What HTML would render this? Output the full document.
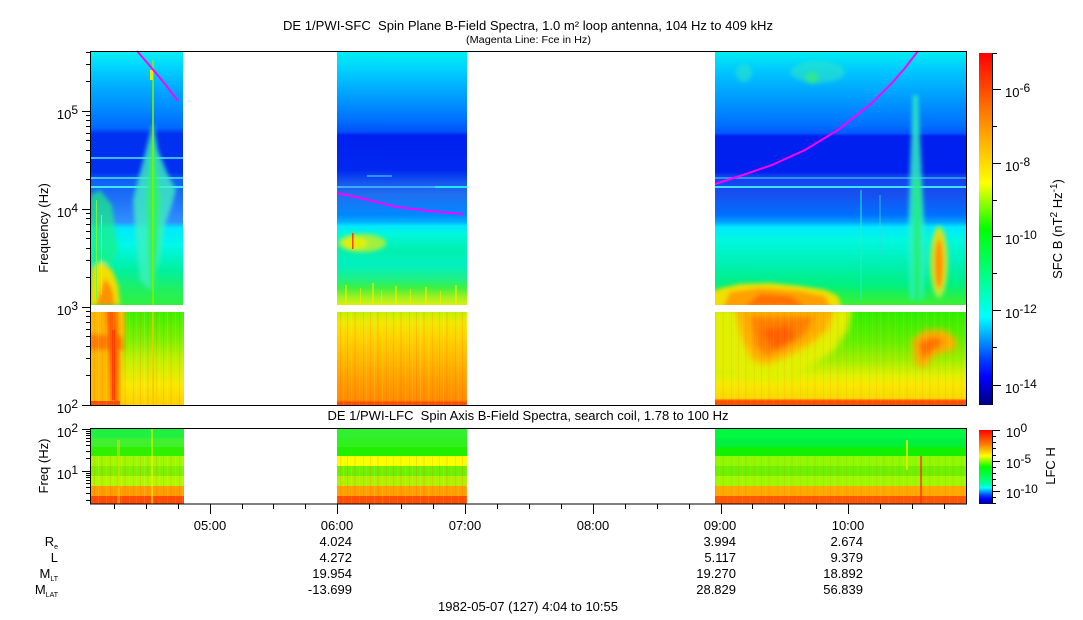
<!DOCTYPE html>
<html><head><meta charset="utf-8">
<style>
html,body{margin:0;padding:0;background:#fff;}
svg{display:block;}
text{font-family:"Liberation Sans",Arial,sans-serif;fill:#000;}
</style></head><body>
<svg width="1083" height="620" viewBox="0 0 1083 620" xmlns="http://www.w3.org/2000/svg">
<defs>
<linearGradient id="g1t" gradientUnits="userSpaceOnUse" x1="0" y1="51" x2="0" y2="305">
<stop offset="0" stop-color="#10f0f0"/><stop offset=".055" stop-color="#00d8ff"/><stop offset=".134" stop-color="#00b0ff"/>
<stop offset=".232" stop-color="#0088ff"/><stop offset=".303" stop-color="#0068ff"/><stop offset=".327" stop-color="#0030f0"/>
<stop offset=".476" stop-color="#0030f0"/><stop offset=".508" stop-color="#1060f8"/><stop offset=".587" stop-color="#2070f8"/>
<stop offset=".673" stop-color="#3090ff"/><stop offset=".697" stop-color="#00e8ff"/><stop offset=".764" stop-color="#00f8e8"/>
<stop offset=".862" stop-color="#00f0a0"/><stop offset=".941" stop-color="#20f060"/><stop offset="1" stop-color="#30f040"/>
</linearGradient>
<linearGradient id="g2t" gradientUnits="userSpaceOnUse" x1="0" y1="51" x2="0" y2="305">
<stop offset="0" stop-color="#00f0f0"/><stop offset=".075" stop-color="#00d0ff"/><stop offset=".173" stop-color="#00a0ff"/>
<stop offset=".272" stop-color="#0070ff"/><stop offset=".319" stop-color="#0050f8"/><stop offset=".331" stop-color="#0020f0"/>
<stop offset=".469" stop-color="#0028f0"/><stop offset=".492" stop-color="#0840f0"/><stop offset=".520" stop-color="#1858f0"/>
<stop offset=".567" stop-color="#2070f0"/><stop offset=".646" stop-color="#0088ff"/><stop offset=".673" stop-color="#00b0ff"/>
<stop offset=".689" stop-color="#00e8ff"/><stop offset=".724" stop-color="#00f8d8"/><stop offset=".783" stop-color="#00f0b0"/>
<stop offset=".843" stop-color="#00f0c0"/><stop offset=".902" stop-color="#20f080"/><stop offset=".933" stop-color="#40f040"/>
<stop offset=".969" stop-color="#a0f020"/><stop offset="1" stop-color="#d8f010"/>
</linearGradient>
<linearGradient id="g3t" gradientUnits="userSpaceOnUse" x1="0" y1="51" x2="0" y2="305">
<stop offset="0" stop-color="#00f0f0"/><stop offset=".075" stop-color="#00c8ff"/><stop offset=".193" stop-color="#0098ff"/>
<stop offset=".291" stop-color="#0070ff"/><stop offset=".323" stop-color="#0058ff"/><stop offset=".335" stop-color="#0020f0"/>
<stop offset=".476" stop-color="#0020f0"/><stop offset=".492" stop-color="#1040f0"/><stop offset=".567" stop-color="#1850f0"/>
<stop offset=".646" stop-color="#0070ff"/><stop offset=".673" stop-color="#00a0ff"/><stop offset=".693" stop-color="#00e8ff"/>
<stop offset=".744" stop-color="#00f8e0"/><stop offset=".843" stop-color="#00f0b0"/><stop offset=".921" stop-color="#00f080"/>
<stop offset=".961" stop-color="#20f050"/><stop offset="1" stop-color="#40f030"/>
</linearGradient>
<linearGradient id="g1b" gradientUnits="userSpaceOnUse" x1="0" y1="312" x2="0" y2="405">
<stop offset="0" stop-color="#40f000"/><stop offset=".3" stop-color="#80f000"/><stop offset=".5" stop-color="#c0f000"/>
<stop offset=".78" stop-color="#f8e800"/><stop offset="1" stop-color="#ffd000"/>
</linearGradient>
<linearGradient id="g2b" gradientUnits="userSpaceOnUse" x1="0" y1="312" x2="0" y2="405">
<stop offset="0" stop-color="#c0f000"/><stop offset=".11" stop-color="#f0e800"/><stop offset=".3" stop-color="#ffd000"/>
<stop offset=".52" stop-color="#ffb800"/><stop offset=".73" stop-color="#ffa000"/><stop offset=".95" stop-color="#ff8c00"/>
<stop offset=".97" stop-color="#ff5000"/><stop offset="1" stop-color="#ff5000"/>
</linearGradient>
<linearGradient id="g3b" gradientUnits="userSpaceOnUse" x1="0" y1="312" x2="0" y2="405">
<stop offset="0" stop-color="#30f000"/><stop offset=".3" stop-color="#60f000"/><stop offset=".52" stop-color="#a0f000"/>
<stop offset=".68" stop-color="#e0f000"/><stop offset=".78" stop-color="#f8e800"/><stop offset=".93" stop-color="#f8d800"/>
<stop offset=".95" stop-color="#ff6000"/><stop offset="1" stop-color="#ff5000"/>
</linearGradient>
<linearGradient id="gcb" x1="0" y1="0" x2="0" y2="1">
<stop offset="0" stop-color="#ff0000"/><stop offset=".2" stop-color="#ff9000"/><stop offset=".37" stop-color="#ffff00"/>
<stop offset=".5" stop-color="#00ff00"/><stop offset=".75" stop-color="#00ffff"/><stop offset=".87" stop-color="#0040ff"/>
<stop offset=".92" stop-color="#0000ff"/><stop offset="1" stop-color="#000080"/>
</linearGradient>
<linearGradient id="gcb2" x1="0" y1="0" x2="0" y2="1">
<stop offset="0" stop-color="#ff0000"/><stop offset=".2" stop-color="#ff8000"/><stop offset=".35" stop-color="#ffff00"/>
<stop offset=".5" stop-color="#00ff00"/><stop offset=".73" stop-color="#00ffa0"/><stop offset=".78" stop-color="#00ffff"/>
<stop offset=".88" stop-color="#0040ff"/><stop offset=".93" stop-color="#0000ff"/><stop offset="1" stop-color="#000080"/>
</linearGradient>
<pattern id="tex" patternUnits="userSpaceOnUse" x="0" y="0" width="23" height="620">
<rect x="2" y="0" width="1" height="620" fill="#ff2000" opacity=".12"/>
<rect x="6" y="0" width="1" height="620" fill="#ffffff" opacity=".10"/>
<rect x="9" y="0" width="2" height="620" fill="#ff2000" opacity=".08"/>
<rect x="14" y="0" width="1" height="620" fill="#ffff00" opacity=".12"/>
<rect x="18" y="0" width="1" height="620" fill="#ff2000" opacity=".10"/>
<rect x="21" y="0" width="1" height="620" fill="#ffffff" opacity=".08"/>
</pattern>
<filter id="bl" x="-30%" y="-30%" width="160%" height="160%"><feGaussianBlur stdDeviation="2.2"/></filter>
<filter id="bl2" x="-30%" y="-30%" width="160%" height="160%"><feGaussianBlur stdDeviation="3.5"/></filter>
<clipPath id="c1t"><rect x="90" y="51" width="93" height="254"/></clipPath>
<clipPath id="c1b"><rect x="90" y="312" width="94" height="93"/></clipPath>
<clipPath id="c2t"><rect x="337" y="51" width="130" height="254"/></clipPath>
<clipPath id="c2b"><rect x="337" y="312" width="130" height="93"/></clipPath>
<clipPath id="c3t"><rect x="715" y="51" width="251" height="254"/></clipPath>
<clipPath id="c3b"><rect x="715" y="312" width="251" height="93"/></clipPath>
</defs>

<!-- Titles -->
<text x="283" y="30" font-size="13" textLength="490" lengthAdjust="spacingAndGlyphs">DE 1/PWI-SFC&#160; Spin Plane B-Field Spectra, 1.0 m² loop antenna, 104 Hz to 409 kHz</text>
<text x="466" y="43" font-size="10" textLength="125" lengthAdjust="spacingAndGlyphs">(Magenta Line: Fce in Hz)</text>
<text x="528" y="420" font-size="13" text-anchor="middle">DE 1/PWI-LFC&#160; Spin Axis B-Field Spectra, search coil, 1.78 to 100 Hz</text>

<!-- ===== Block 1 top ===== -->
<rect x="90" y="51" width="93" height="254" fill="url(#g1t)"/>
<rect x="90" y="157" width="93" height="2" fill="#40b8ff"/>
<rect x="90" y="177" width="93" height="2" fill="#40c0ff"/>
<rect x="90" y="186" width="93" height="2" fill="#40e8ff"/>
<g clip-path="url(#c1t)">
<g filter="url(#bl)">
<polygon points="153,122 158,150 168,175 176,190 172,205 165,225 160,260 150,290 140,280 136,240 133,200 138,180 146,150" fill="#40f0c0" opacity=".8"/>
<polygon points="153,135 157,170 160,200 158,240 155,290 150,290 148,240 147,200 149,170" fill="#30f070"/>
<polygon points="90,195 100,190 112,205 118,250 110,265 90,265" fill="#20f080" opacity=".7"/>
<polygon points="90,305 120,305 118,285 112,270 102,262 92,268" fill="#f0e000"/>
<polygon points="96,305 115,305 112,288 105,278" fill="#ff9000"/>
</g>
<rect x="152" y="60" width="2" height="245" fill="#80f000" opacity=".8"/>
<rect x="150" y="70" width="3" height="10" fill="#e0f000"/>
<rect x="96" y="200" width="1" height="100" fill="#80f040"/>
<rect x="101" y="215" width="1" height="80" fill="#f0f000" opacity=".7"/>
</g>
<!-- Block 1 bottom -->
<rect x="90" y="312" width="94" height="93" fill="url(#g1b)"/>
<g clip-path="url(#c1b)">
<g filter="url(#bl)">
<polygon points="86,308 125,308 125,330 122,360 120,410 86,410" fill="#ffb800"/>
<polygon points="88,334 122,336 124,350 88,350" fill="#ff8000"/>
<polygon points="105,308 117,308 119,360 118,410 111,410 109,360" fill="#ff6000"/>
</g>
<rect x="112" y="330" width="3" height="70" fill="#ff3000" opacity=".7"/>
<rect x="90" y="401" width="30" height="4" fill="#ff5000"/>
<rect x="152" y="312" width="2" height="93" fill="#f0c000" opacity=".7"/>
<rect x="90" y="312" width="94" height="93" fill="url(#tex)"/>
</g>

<!-- ===== Block 2 top ===== -->
<rect x="337" y="51" width="130" height="254" fill="url(#g2t)"/>
<rect x="367" y="175" width="25" height="2" fill="#3090ff"/>
<rect x="337" y="186" width="130" height="2" fill="#40a8ff"/>
<rect x="435" y="186" width="32" height="2" fill="#20e8ff"/>
<g clip-path="url(#c2t)">
<g filter="url(#bl)">
<ellipse cx="362" cy="243" rx="24" ry="9" fill="#a0f040"/>
<ellipse cx="355" cy="243" rx="12" ry="6" fill="#e0f000"/>
</g>
<rect x="352" y="233" width="1.5" height="16" fill="#ff4000"/>
<g fill="#f0f000" opacity=".6">
<rect x="345" y="285" width="2" height="20"/><rect x="360" y="288" width="1" height="17"/><rect x="372" y="283" width="2" height="22"/>
<rect x="381" y="290" width="1" height="15"/><rect x="395" y="286" width="2" height="19"/><rect x="410" y="289" width="1" height="16"/>
<rect x="425" y="287" width="2" height="18"/><rect x="440" y="291" width="1" height="14"/><rect x="455" y="285" width="2" height="20"/>
</g>
</g>
<!-- Block 2 bottom -->
<rect x="337" y="312" width="130" height="93" fill="url(#g2b)"/>
<rect x="337" y="312" width="130" height="93" fill="url(#tex)"/>

<!-- ===== Block 3 top ===== -->
<rect x="715" y="51" width="251" height="254" fill="url(#g3t)"/>
<rect x="715" y="177" width="251" height="2" fill="#3090ff"/>
<rect x="715" y="186" width="251" height="2" fill="#40e0ff"/>
<g clip-path="url(#c3t)">
<g filter="url(#bl)">
<ellipse cx="744" cy="73" rx="8" ry="9" fill="#30e8c0" opacity=".55"/>
<ellipse cx="818" cy="72" rx="27" ry="11" fill="#30e8c0" opacity=".55"/>
<ellipse cx="812" cy="78" rx="7" ry="6" fill="#40f060" opacity=".6"/>
<polygon points="913,95 918,95 922,180 926,260 923,300 910,300 908,240 910,170" fill="#30f0c0" opacity=".85"/>
<polygon points="915,180 919,180 920,300 914,300" fill="#20f060"/>
<ellipse cx="939" cy="262" rx="9" ry="36" fill="#a0f040"/>
<ellipse cx="939" cy="262" rx="6" ry="30" fill="#f0d000"/>
<ellipse cx="939" cy="264" rx="4" ry="24" fill="#ff9000"/>
<polygon points="710,310 710,292 722,288 740,284 770,283 800,286 825,290 838,296 842,310" fill="#f0e000"/>
<polygon points="722,310 730,292 760,288 800,291 825,296 832,310" fill="#ffa000"/>
<polygon points="745,306 760,294 790,296 805,306" fill="#ff7000"/>
</g>
<rect x="860" y="190" width="2" height="110" fill="#20f0c0" opacity=".5"/>
<rect x="879" y="195" width="2" height="60" fill="#40d0e0" opacity=".4"/>
</g>
<!-- Block 3 bottom -->
<rect x="715" y="312" width="251" height="93" fill="url(#g3b)"/>
<g clip-path="url(#c3b)">
<g filter="url(#bl2)">
<polygon points="710,308 852,308 848,330 835,350 810,368 790,378 760,380 730,375 710,372" fill="#e0f000"/>
<polygon points="735,308 835,308 828,330 810,345 785,358 765,365 752,360 742,340" fill="#ffb000"/>
<polygon points="750,316 815,316 805,335 785,348 765,356 755,345" fill="#ff8000"/>
<polygon points="760,330 790,325 795,340 775,350" fill="#ff6000"/>
<polygon points="912,340 925,330 945,330 957,340 955,350 935,355 925,368 915,365" fill="#ffb000"/>
<polygon points="918,342 935,336 945,342 932,352 922,360" fill="#ff7000"/>
</g>
<rect x="715" y="401" width="251" height="4" fill="#ff5000"/>
<rect x="715" y="312" width="251" height="93" fill="url(#tex)" opacity=".6"/>
</g>

<!-- Magenta lines -->
<polyline points="137,51 150,66 165,84 178,101" fill="none" stroke="#ff00ff" stroke-width="2"/>
<polyline points="338,193 360,198 397,207 430,211 463,214" fill="none" stroke="#ff00ff" stroke-width="2"/>
<polyline points="715,184 740,176 772,165 805,150 838,130 872,103 892,83 905,68 918,51" fill="none" stroke="#ff00ff" stroke-width="2"/>

<!-- ===== Lower panel ===== -->
<g>
<rect x="90" y="429" width="94" height="9" fill="#20f040"/>
<rect x="90" y="438" width="94" height="9" fill="#40f030"/>
<rect x="90" y="447" width="94" height="9" fill="#30f000"/>
<rect x="90" y="456" width="94" height="10" fill="#a0f800"/>
<rect x="90" y="466" width="94" height="10" fill="#80f000"/>
<rect x="90" y="476" width="94" height="10" fill="#b0f800"/>
<rect x="90" y="486" width="94" height="10" fill="#ff9c00"/>
<rect x="90" y="496" width="94" height="8" fill="#ff4c00"/>
<rect x="117" y="440" width="3" height="64" fill="#ffd000" opacity=".5"/>
<rect x="151" y="429" width="2" height="75" fill="#f0f000" opacity=".6"/>

<rect x="337" y="429" width="130" height="9" fill="#30f030"/>
<rect x="337" y="438" width="130" height="9" fill="#30f020"/>
<rect x="337" y="447" width="130" height="9" fill="#20f000"/>
<rect x="337" y="456" width="130" height="10" fill="#f8ff00"/>
<rect x="337" y="466" width="130" height="10" fill="#70f000"/>
<rect x="337" y="476" width="130" height="10" fill="#b0f000"/>
<rect x="337" y="486" width="130" height="10" fill="#ffa000"/>
<rect x="337" y="496" width="130" height="8" fill="#ff5000"/>

<rect x="715" y="429" width="251" height="9" fill="#00f840"/>
<rect x="715" y="438" width="251" height="9" fill="#00f040"/>
<rect x="715" y="447" width="251" height="9" fill="#10f000"/>
<rect x="715" y="456" width="251" height="10" fill="#90f800"/>
<rect x="715" y="466" width="251" height="10" fill="#70f000"/>
<rect x="715" y="476" width="251" height="10" fill="#a0f800"/>
<rect x="715" y="486" width="251" height="10" fill="#ffa800"/>
<rect x="715" y="496" width="251" height="8" fill="#ff5800"/>
<rect x="906" y="440" width="2" height="30" fill="#f0f000" opacity=".8"/>
<rect x="920" y="456" width="2" height="48" fill="#ff3000" opacity=".7"/>
<rect x="90" y="456" width="94" height="48" fill="url(#tex)"/>
<rect x="337" y="456" width="130" height="48" fill="url(#tex)"/>
<rect x="715" y="456" width="251" height="48" fill="url(#tex)" opacity=".6"/>
</g>

<!-- Frames -->
<rect x="90.5" y="51.5" width="876" height="354" fill="none" stroke="#000" stroke-width="1"/>
<rect x="90.5" y="428.5" width="876" height="75.5" fill="none" stroke="#000" stroke-width="1"/>

<!-- Ticks -->
<g stroke="#000" stroke-width="1">
<path d="M82 111.5H90M82 209.5H90M82 307.5H90M82 405.5H90"/>
<path d="M86 375.5H90M86 358.5H90M86 346.5H90M86 336.5H90M86 329.5H90M86 322.5H90M86 316.5H90M86 311.5H90
M86 277.5H90M86 260.5H90M86 248.5H90M86 238.5H90M86 231.5H90M86 224.5H90M86 218.5H90M86 213.5H90
M86 179.5H90M86 162.5H90M86 150.5H90M86 140.5H90M86 133.5H90M86 126.5H90M86 120.5H90M86 115.5H90
M86 81.5H90M86 64.5H90M86 52.5H90"/>
<path d="M82 429.5H90M82 471.5H90"/>
<path d="M86 431.5H90M86 433.5H90M86 435.5H90M86 438.5H90M86 441.5H90M86 445.5H90M86 451.5H90M86 458.5H90
M86 473.5H90M86 475.5H90M86 477.5H90M86 480.5H90M86 483.5H90M86 487.5H90M86 493.5H90M86 500.5H90"/>
<path d="M210.5 504V514M337.5 504V514M465.5 504V514M593.5 504V514M721.5 504V514M848.5 504V514"/>
<path d="M114.5 504V509M146.5 504V509M178.5 504V509M242.5 504V509M273.5 504V509M305.5 504V509
M369.5 504V509M401.5 504V509M433.5 504V509M497.5 504V509M529.5 504V509M561.5 504V509
M625.5 504V509M657.5 504V509M689.5 504V509M752.5 504V509M784.5 504V509M816.5 504V509
M880.5 504V509M912.5 504V509M944.5 504V509"/>
</g>

<!-- Left tick labels -->
<g font-size="13">
<text x="78" y="119" text-anchor="end">10<tspan dy="-5" font-size="12">5</tspan></text>
<text x="78" y="217" text-anchor="end">10<tspan dy="-5" font-size="12">4</tspan></text>
<text x="78" y="315" text-anchor="end">10<tspan dy="-5" font-size="12">3</tspan></text>
<text x="78" y="413" text-anchor="end">10<tspan dy="-5" font-size="12">2</tspan></text>
<text x="78" y="437" text-anchor="end">10<tspan dy="-5" font-size="12">2</tspan></text>
<text x="78" y="479" text-anchor="end">10<tspan dy="-5" font-size="12">1</tspan></text>
</g>
<text transform="translate(48,228) rotate(-90)" font-size="13" text-anchor="middle">Frequency (Hz)</text>
<text transform="translate(48,466) rotate(-90)" font-size="13" text-anchor="middle">Freq (Hz)</text>

<!-- Colorbars -->
<rect x="979" y="53" width="13" height="352" fill="url(#gcb)"/>
<rect x="979" y="430" width="13" height="74" fill="url(#gcb2)"/>
<g stroke="#000" stroke-width="1">
<path d="M992.5 53V405M992.5 430V504"/>
<path d="M992 89.5H1001M992 163.5H1001M992 236.5H1001M992 310.5H1001M992 385.5H1001"/>
<path d="M992 53.5H997M992 126.5H997M992 200.5H997M992 273.5H997M992 347.5H997"/>
<path d="M992 430.5H1000M992 461.5H1000M992 491.5H1000"/>
<path d="M992 436.5H996M992 442.5H996M992 448.5H996M992 455.5H996M992 467.5H996M992 473.5H996M992 479.5H996M992 485.5H996M992 497.5H996M992 503.5H996"/>
</g>
<g font-size="13">
<text x="1005" y="97">10<tspan dy="-5" font-size="12">-6</tspan></text>
<text x="1005" y="171">10<tspan dy="-5" font-size="12">-8</tspan></text>
<text x="1005" y="244">10<tspan dy="-5" font-size="12">-10</tspan></text>
<text x="1005" y="318">10<tspan dy="-5" font-size="12">-12</tspan></text>
<text x="1005" y="393">10<tspan dy="-5" font-size="12">-14</tspan></text>
<text x="1006" y="437">10<tspan dy="-5" font-size="12">0</tspan></text>
<text x="1006" y="468">10<tspan dy="-5" font-size="12">-5</tspan></text>
<text x="1006" y="498">10<tspan dy="-5" font-size="12">-10</tspan></text>
</g>
<text transform="translate(1062,229) rotate(-90)" font-size="13" text-anchor="middle">SFC B (nT<tspan dy="-5" font-size="10">2</tspan><tspan dy="5"> Hz</tspan><tspan dy="-5" font-size="10">-1</tspan><tspan dy="5">)</tspan></text>
<text transform="translate(1055,466) rotate(-90)" font-size="13" text-anchor="middle">LFC H</text>

<!-- Time labels -->
<g font-size="13" text-anchor="middle">
<text x="210" y="530">05:00</text>
<text x="337" y="530">06:00</text>
<text x="465" y="530">07:00</text>
<text x="593" y="530">08:00</text>
<text x="720" y="530">09:00</text>
<text x="848" y="530">10:00</text>
</g>
<!-- Ephemeris labels -->
<g font-size="13" text-anchor="end">
<text x="58" y="546">R<tspan font-size="7" dy="3">e</tspan></text>
<text x="58" y="562">L</text>
<text x="58" y="578">M<tspan font-size="7" dy="3">LT</tspan></text>
<text x="58" y="594">M<tspan font-size="7" dy="3">LAT</tspan></text>
<text x="352" y="546">4.024</text>
<text x="352" y="562">4.272</text>
<text x="352" y="578">19.954</text>
<text x="352" y="594">-13.699</text>
<text x="736" y="546">3.994</text>
<text x="736" y="562">5.117</text>
<text x="736" y="578">19.270</text>
<text x="736" y="594">28.829</text>
<text x="863" y="546">2.674</text>
<text x="863" y="562">9.379</text>
<text x="863" y="578">18.892</text>
<text x="863" y="594">56.839</text>
</g>
<text x="528" y="611" font-size="13" text-anchor="middle">1982-05-07 (127) 4:04 to 10:55</text>
</svg>
</body></html>
